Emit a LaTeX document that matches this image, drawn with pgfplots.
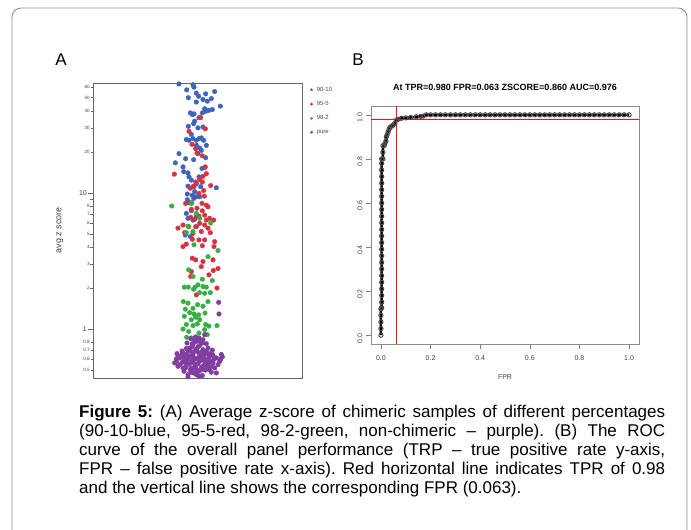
\documentclass[border=0pt]{standalone}
\usepackage{fontspec}
\setmainfont{Liberation Sans}
\usepackage{pgfplots}
\pgfplotsset{compat=1.18}
\definecolor{cblue}{RGB}{62,100,190}
\definecolor{cred}{RGB}{215,50,65}
\definecolor{cgreen}{RGB}{55,175,70}
\definecolor{cpurple}{RGB}{128,62,160}
\definecolor{lred}{RGB}{235,20,20}
\frenchspacing
\begin{document}
\begin{tikzpicture}
\path[use as bounding box] (0,0) rectangle (691bp,-530bp);
\draw[black!45, line width=0.8bp, rounded corners=9bp] (12bp,-545bp) -- (12bp,-8bp) -- (687bp,-8bp) -- (687bp,-545bp);
\node[font=\fontsize{17bp}{17bp}\selectfont] at (61bp,-60bp) {A};
\node[font=\fontsize{17bp}{17bp}\selectfont] at (358bp,-60bp) {B};
\node[rotate=90, font=\fontsize{9bp}{10bp}\selectfont, text=black!75] at (60bp,-230bp) {avg z score};
% ---------------- Panel A
\begin{axis}[
  at={(93bp,-378bp)}, anchor=south west, scale only axis,
  width=209bp, height=295bp,
  xmin=160, xmax=787, ymode=log, ymin=0.437, ymax=64,
  axis line style={draw=black!60, line width=0.7bp},
  xtick=\empty,
  ytick={1,10}, yticklabels={1,10},
  minor ytick={},
  ytick pos=left, tick align=outside, major tick length=5bp,
  tick style={black!60, line width=0.5bp},
  extra y ticks={0.5,0.6,0.7,0.8,2,3,4,5,6,7,8,20,30,40,50,60},
  extra y tick labels={0.5,0.6,0.7,0.8,2,3,4,5,6,7,8,20,30,40,50,60},
  extra y tick style={major tick length=2bp, yticklabel style={font=\fontsize{4.6bp}{5bp}\selectfont}},
  yticklabel style={font=\fontsize{7bp}{8bp}\selectfont, text=black!75, inner sep=1bp},
  /pgf/number format/assume math mode=true,
  legend style={at={(1,1)}, anchor=north west, xshift=8bp, yshift=-3bp, draw=none, fill=none,
    font=\fontsize{6bp}{6bp}\selectfont, text=black!70, row sep=7bp, column sep=3bp, inner sep=0pt,
    nodes={inner sep=0.8bp}},
  legend cell align=left,
  legend image code/.code={\fill[#1] (0bp,0bp) circle (1.2bp);},
]
\addplot[only marks, mark=*, mark size=2.3bp, color=cblue, fill=cblue, mark options={draw=none, fill=cblue}] coordinates {
(418,63.0) (460,62.1) (463,59.7) (441,57.0) (470,53.9) (498,53.3) (525,55.4) (446,49.9)
(477,51.1) (490,48.4) (503,47.1) (515,49.2) (470,46.4) (542,43.3) (452,38.6) (463,38.0)
(458,37.5) (495,41.4) (498,39.7) (507,40.3) (518,40.8) (488,38.6) (478,35.6) (465,33.6)
(462,32.2) (446,30.8) (475,30.0) (490,30.4) (440,24.6) (455,26.8) (460,25.0) (470,24.3)
(478,25.0) (485,25.3) (492,24.3) (448,24.3) (470,22.3) (480,21.3) (485,20.5) (500,22.3)
(475,19.4) (498,18.1) (418,19.4) (438,17.8) (462,17.5) (407,16.6) (430,15.5) (487,15.1)
(495,15.3) (432,14.3) (445,14.0) (448,13.1) (478,13.1) (455,12.4) (470,11.7) (445,11.2)
(460,11.1) (483,11.1) (530,10.9) (465,10.2) (458,9.6) (443,9.8) (470,9.35) (450,8.45)
(480,9.35) (440,7.06) (455,7.4) (445,6.5) (460,6.3) (470,5.64) (437,4.9) (452,4.77)
(470,6.67) (462,9.1) (443,8.9)
};
\addlegendentry{90-10}
\addplot[only marks, mark=*, mark size=2.3bp, color=cred, fill=cred, mark options={draw=none, fill=cred}] coordinates {
(483,35.6) (448,28.3) (497,29.5) (457,22.7) (468,21.1) (472,19.6) (488,18.7) (404,13.7)
(497,15.5) (500,13.8) (490,13.2) (480,12.5) (468,12.0) (488,12.0) (513,11.3) (463,11.1)
(452,10.8) (492,10.4) (478,9.9) (494,9.46) (438,8.36) (456,8.45) (487,8.36) (500,8.1)
(505,7.9) (472,7.7) (455,7.55) (488,7.38) (495,6.86) (478,6.75) (453,6.6) (465,6.4)
(500,6.31) (510,6.5) (522,6.31) (430,5.8) (447,5.64) (468,5.64) (480,5.97) (495,5.8)
(505,5.5) (415,5.5) (435,5.1) (460,5.04) (485,5.2) (512,5.1) (458,4.56) (478,4.51)
(495,4.51) (525,4.38) (430,4.03) (440,4.2) (488,4.09) (523,4.03) (458,3.31) (468,3.22)
(490,3.13) (520,3.22) (485,2.87) (535,2.78) (521,2.69) (455,2.64) (453,2.43) (532,2.0)
(470,1.78) (508,2.5)
};
\addlegendentry{95-5}
\addplot[only marks, mark=*, mark size=2.3bp, color=cgreen, fill=cgreen, mark options={draw=none, fill=cgreen}] coordinates {
(396,8.0) (455,8.36) (470,7.06) (480,6.5) (513,6.0) (445,5.7) (440,5.1) (460,5.2)
(463,4.15) (505,3.4) (535,3.77) (447,2.72) (460,2.43) (434,2.03) (446,2.03) (466,2.03)
(475,2.11) (490,2.05) (500,2.03) (518,2.27) (488,2.32) (462,1.96) (480,1.85) (495,1.83)
(512,1.85) (431,1.59) (445,1.55) (460,1.42) (474,1.51) (490,1.47) (505,1.59) (437,1.4)
(450,1.32) (463,1.29) (477,1.27) (496,1.31) (468,1.22) (455,1.17) (480,1.17) (434,1.24)
(440,1.08) (460,1.06) (473,1.09) (498,1.08) (508,1.05) (532,1.06) (441,0.87) (455,0.86)
(467,0.86) (478,0.935) (495,0.99) (430,1.0) (503,0.91) (447,0.96)
};
\addlegendentry{98-2}
\addplot[only marks, mark=*, mark size=2.3bp, color=cpurple, fill=cpurple, mark options={draw=none, fill=cpurple}] coordinates {
(537,1.57) (538,1.29) (495,0.91) (490,0.836) (470,0.81) (442,0.79) (460,0.77) (480,0.755)
(450,0.725) (470,0.714) (490,0.706) (505,0.725) (430,0.667) (412,0.66) (440,0.65) (460,0.65)
(478,0.667) (495,0.65) (515,0.667) (545,0.65) (420,0.614) (445,0.604) (470,0.604) (488,0.597)
(505,0.604) (530,0.614) (548,0.624) (405,0.564) (428,0.57) (455,0.57) (475,0.557) (498,0.57)
(520,0.564) (540,0.58) (415,0.533) (440,0.533) (462,0.518) (485,0.527) (505,0.533) (525,0.518)
(433,0.49) (455,0.482) (478,0.49) (497,0.5) (515,0.482) (445,0.463) (470,0.463) (488,0.456)
(445,0.445) (462,0.564) (480,0.58) (450,0.63) (435,0.597) (495,0.548) (470,0.504) (530,0.476)
(420,0.548) (510,0.63) (485,0.63) (452,0.687) (465,0.687) (500,0.687) (425,0.64) (458,0.59)
(492,0.59) (512,0.58) (440,0.564) (468,0.54) (455,0.518) (490,0.51) (430,0.518) (508,0.504)
(462,0.476) (478,0.45) (458,0.78) (475,0.74) (445,0.69) (500,0.78) (482,0.81) (520,0.64)
(535,0.548) (410,0.604)
(415,0.62) (432,0.58) (447,0.555) (463,0.61) (477,0.62) (493,0.615) (508,0.57) (523,0.6)
(438,0.52) (452,0.5) (467,0.53) (483,0.5) (500,0.52) (516,0.53) (427,0.69) (440,0.72)
(457,0.74) (472,0.69) (487,0.68) (503,0.66) (518,0.7) (465,0.83) (453,0.85) (478,0.86)
(468,0.875) (488,0.79) (432,0.63) (496,0.555) (410,0.58) (543,0.6)
};
\addlegendentry{pure}
\end{axis}
% ---------------- Panel B
\begin{axis}[
  at={(371bp,-344bp)}, anchor=south west, scale only axis,
  width=268bp, height=238bp,
  xmin=-0.04, xmax=1.04, ymin=-0.04, ymax=1.04,
  axis line style={draw=black!45, line width=0.7bp},
  xtick={0,0.2,0.4,0.6,0.8,1}, xticklabels={0.0,0.2,0.4,0.6,0.8,1.0},
  ytick={0,0.2,0.4,0.6,0.8,1}, yticklabels={0.0,0.2,0.4,0.6,0.8,1.0},
  xtick pos=bottom, ytick pos=left, tick align=outside, major tick length=5bp,
  tick style={black!50, line width=0.5bp},
  ticklabel style={font=\fontsize{7bp}{8bp}\selectfont, text=black!75},
  xticklabel style={yshift=-3bp},
  yticklabel style={rotate=90, anchor=south, xshift=-3bp},
  /pgf/number format/assume math mode=true,
  xlabel={FPR},
  every axis x label/.style={at={(axis description cs:0.5,0)}, anchor=center, yshift=-33bp, font=\fontsize{7bp}{8bp}\selectfont, text=black!75},
  title={At TPR=0.980 FPR=0.063 ZSCORE=0.860 AUC=0.976},
  every axis title/.style={at={(axis description cs:0.5,1)}, anchor=center, yshift=19bp, font=\bfseries\fontsize{9bp}{10bp}\selectfont},
]
\addplot[black, line width=2.6bp, mark=o, mark size=2.1bp, mark options={black!70, line width=1bp}] coordinates {
(0,0) (0,0.03) (0,0.06) (0,0.09) (0,0.12) (0.003,0.124) (0.003,0.15) (0.003,0.18) (0.003,0.21)
(0.003,0.24) (0.003,0.27) (0.003,0.30) (0.003,0.33) (0.003,0.36) (0.003,0.39) (0.003,0.42)
(0.003,0.45) (0.003,0.48) (0.003,0.51) (0.003,0.54) (0.003,0.57) (0.003,0.60) (0.003,0.63)
(0.003,0.66) (0.003,0.69) (0.003,0.72) (0.003,0.75) (0.003,0.78) (0.003,0.80) (0.008,0.80)
(0.008,0.83) (0.008,0.86) (0.013,0.86) (0.016,0.87) (0.02,0.88) (0.022,0.90) (0.025,0.91)
(0.029,0.923) (0.033,0.935) (0.036,0.943) (0.043,0.948) (0.049,0.953) (0.056,0.961)
(0.063,0.976) (0.07,0.98) (0.083,0.984) (0.1,0.986) (0.12,0.988) (0.143,0.991) (0.16,0.993)
(0.17,0.994) (0.183,1.0) (0.2,1) (0.22,1) (0.24,1) (0.26,1) (0.28,1) (0.3,1) (0.32,1) (0.34,1)
(0.36,1) (0.38,1) (0.4,1) (0.42,1) (0.44,1) (0.46,1) (0.48,1) (0.5,1) (0.52,1) (0.54,1) (0.56,1)
(0.58,1) (0.6,1) (0.62,1) (0.64,1) (0.66,1) (0.68,1) (0.7,1) (0.72,1) (0.74,1) (0.76,1) (0.78,1)
(0.8,1) (0.82,1) (0.84,1) (0.86,1) (0.88,1) (0.9,1) (0.92,1) (0.94,1) (0.96,1) (0.98,1) (1,1)
};
\addplot[lred, line width=1.4bp] coordinates {(-0.04,0.98) (1.04,0.98)};
\addplot[lred, line width=1.4bp] coordinates {(0.063,-0.04) (0.063,1.04)};
\end{axis}
% ---------------- Caption
\begin{scope}[every node/.style={anchor=base west, inner sep=0pt, font=\fontsize{17bp}{19bp}\selectfont}]
\node at (79bp,-417bp) {\hbox to 586bp{\textbf{Figure 5:} (A) Average z-score of chimeric samples of different percentages}};
\node at (79bp,-436bp) {\hbox to 586bp{(90-10-blue, 95-5-red, 98-2-green, non-chimeric – purple). (B) The ROC}};
\node at (79bp,-455bp) {\hbox to 586bp{curve of the overall panel performance (TRP – true positive rate y-axis,}};
\node at (79bp,-474bp) {\hbox to 586bp{FPR – false positive rate x-axis). Red horizontal line indicates TPR of 0.98}};
\node at (79bp,-493bp) {and the vertical line shows the corresponding FPR (0.063).};
\end{scope}
\end{tikzpicture}
\end{document}
